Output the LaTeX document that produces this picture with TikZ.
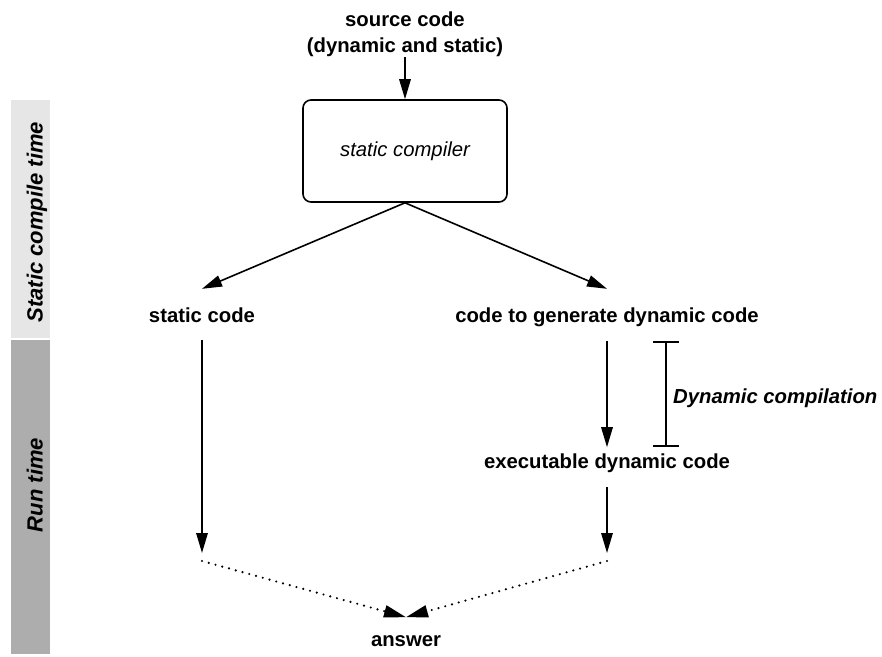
\documentclass[tikz,border=0pt]{standalone}
\usepackage{fontspec}
\setmainfont{Liberation Sans}
\usetikzlibrary{arrows.meta}

\definecolor{lightbar}{HTML}{E6E6E6}
\definecolor{darkbar}{HTML}{ADADAD}

\begin{document}
\begin{tikzpicture}[x=1pt,y=-1pt,
  txt/.style={font=\fontsize{20.3}{26}\selectfont, inner sep=0pt},
  lbl/.style={txt, font=\fontsize{20.3}{26}\selectfont\bfseries,
    text height=14.6pt, text depth=4.2pt},
  sidelbl/.style={inner sep=0pt, rotate=90,
    font=\fontsize{22}{26}\selectfont\bfseries\itshape,
    text height=15.8pt, text depth=4.6pt},
  flow/.style={line width=1.6pt, -{Triangle[length=20pt,width=11.5pt]}},
  dotflow/.style={line width=2.4pt, line cap=round, dash pattern=on 0pt off 7pt,
    -{Triangle[length=22pt,width=12pt]}},
  procbox/.style={draw, line width=1.6pt, rounded corners=8pt,
    minimum width=204pt, minimum height=102pt, txt}
]
\useasboundingbox (0,0) rectangle (882,656);

% phase bars on the left
\fill[lightbar] (11,100) rectangle (50,338);
\fill[darkbar] (11,340) rectangle (50,654);
\node[sidelbl] (sct) at (37,222) {Static compile time};
\node[sidelbl] (rt) at (37,485) {Run time};

% nodes
\node[txt, font=\fontsize{20.3}{26}\selectfont\bfseries, align=center, anchor=south]
  (src) at (405,57) {source code\\(dynamic and static)};
\node[procbox] (comp) at (405,151) {\itshape static compiler};
\node[lbl, anchor=base] (stat) at (202,322) {static code};
\node[lbl, anchor=base] (gen) at (607,322) {code to generate dynamic code};
\node[lbl, anchor=base] (exe) at (607,468) {executable dynamic code};
\node[lbl, anchor=base] (ans) at (406,646) {answer};
\node[lbl, font=\fontsize{20.3}{26}\selectfont\bfseries\itshape, anchor=base west]
  (dc) at (673,403) {Dynamic compilation};

% free ends
\coordinate (lend) at (stat.south |- 0,561);
\coordinate (rend) at (exe.south |- 0,561);
\coordinate (meet) at ([yshift=14pt]ans.north);
\coordinate (bt) at (666,341);
\coordinate (bb) at (666,447);

% connectors
\draw[flow] (src) -- (comp);
\draw[flow] (comp.south) -- ([yshift=18.4pt]stat.north);
\draw[flow] (comp.south) -- ([yshift=18.4pt]gen.north);
\draw[flow, shorten <=15pt, shorten >=6pt] (gen.south) -- (exe.north);
\draw[flow, shorten <=14pt, shorten >=8pt] (stat.south) -- (lend);
\draw[flow, shorten <=15pt, shorten >=8pt] (exe.south) -- (rend);
\draw[dotflow] (lend) -- (meet);
\draw[dotflow] (rend) -- (meet);

% dynamic compilation span
\draw[line width=1.6pt, {Bar[width=26pt]}-{Bar[width=26pt]}] (bt) -- (bb);
\end{tikzpicture}
\end{document}
